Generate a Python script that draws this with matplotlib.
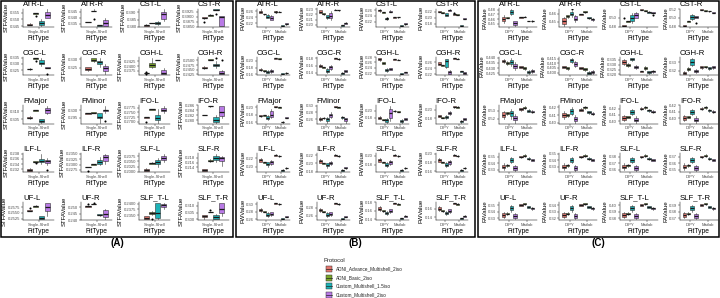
import matplotlib
matplotlib.use('Agg')
import matplotlib.pyplot as plt
from matplotlib.patches import Rectangle
from matplotlib.ticker import MaxNLocator

plt.rcParams['font.family'] = ['Liberation Sans', 'DejaVu Sans']

protocols = ['ADNI_Advance_Multishell_2iso', 'ADNI_Basic_2iso',
             'Custom_Multishell_1.5iso', 'Custom_Multishell_2iso']
colors = ['#E4766E', '#7BA62A', '#1DB3B7', '#B97AE6']
tracts = ['ATR-L', 'ATR-R', 'CST-L', 'CST-R', 'CGC-L', 'CGC-R', 'CGH-L', 'CGH-R',
          'FMajor', 'FMinor', 'IFO-L', 'IFO-R', 'ILF-L', 'ILF-R', 'SLF-L', 'SLF-R',
          'UF-L', 'UF-R', 'SLF_T-L', 'SLF_T-R']
fit_a = ['Single-Shell']
fit_bc = ['DIPY', 'Matlab']

# boxes: [low whisker, q1, median, q3, high whisker], one per protocol
stfa = {
    'ATR-L': [[0.3455, 0.3458, 0.346, 0.3465, 0.347], [0.3543, 0.3543, 0.3545, 0.3546, 0.3548],
              [0.345, 0.3458, 0.3475, 0.349, 0.350], [0.351, 0.351, 0.3535, 0.3553, 0.3575]],
    'ATR-R': [[0.3363, 0.3363, 0.3365, 0.3367, 0.3367], [0.3455, 0.3455, 0.3457, 0.346, 0.347],
              [0.3335, 0.3335, 0.334, 0.3342, 0.3342], [0.333, 0.3335, 0.3355, 0.338, 0.340]],
    'CST-L': [[0.3805, 0.3808, 0.381, 0.3815, 0.3818], [0.3825, 0.3825, 0.3828, 0.383, 0.383],
              [0.3815, 0.382, 0.3828, 0.3833, 0.384], [0.384, 0.3855, 0.389, 0.3905, 0.392]],
    'CST-R': [[0.389, 0.3893, 0.3895, 0.3898, 0.390], [0.3902, 0.3905, 0.3908, 0.391, 0.3912],
              [0.3935, 0.3935, 0.3937, 0.3938, 0.3938], [0.3852, 0.3855, 0.390, 0.3905, 0.3905]],
    'CGC-L': [[0.3252, 0.3255, 0.3258, 0.3262, 0.3265], [0.3338, 0.334, 0.3345, 0.3348, 0.335],
              [0.328, 0.3295, 0.331, 0.3335, 0.335], [0.3268, 0.3268, 0.327, 0.3272, 0.3272]],
    'CGC-R': [[0.3233, 0.3235, 0.3245, 0.3255, 0.3257], [0.3285, 0.329, 0.3298, 0.3305, 0.331],
              [0.3255, 0.327, 0.3283, 0.329, 0.3305], [0.321, 0.3228, 0.325, 0.3262, 0.3275]],
    'CGH-L': [[0.2362, 0.2362, 0.2363, 0.2364, 0.2364], [0.239, 0.2395, 0.2405, 0.2418, 0.2445],
              [0.2432, 0.2432, 0.2433, 0.2434, 0.2434], [0.2355, 0.2358, 0.2363, 0.238, 0.239]],
    'CGH-R': [[0.2455, 0.2457, 0.246, 0.2465, 0.2468], [0.2503, 0.2503, 0.2505, 0.2506, 0.2506],
              [0.2462, 0.2468, 0.2475, 0.248, 0.2495], [0.2425, 0.2428, 0.2435, 0.2445, 0.2448]],
    'FMajor': [[0.3055, 0.3057, 0.306, 0.3065, 0.3068], [0.3105, 0.3105, 0.3106, 0.3107, 0.3107],
               [0.3028, 0.303, 0.3038, 0.305, 0.3052], [0.3085, 0.309, 0.311, 0.3125, 0.3135]],
    'FMinor': [[0.2978, 0.2978, 0.298, 0.2981, 0.2981], [0.2982, 0.2983, 0.2985, 0.2987, 0.2988],
               [0.2915, 0.2945, 0.2955, 0.2982, 0.2985], [0.2985, 0.2995, 0.300, 0.3005, 0.303]],
    'IFO-L': [[0.2722, 0.2723, 0.2725, 0.2727, 0.2728], [0.2762, 0.2763, 0.2766, 0.2768, 0.2768],
              [0.2695, 0.2708, 0.272, 0.2738, 0.277], [0.2748, 0.2758, 0.2765, 0.2775, 0.2785]],
    'IFO-R': [[0.2821, 0.2821, 0.2822, 0.2823, 0.2823], [0.2855, 0.2856, 0.2857, 0.2858, 0.2858],
              [0.279, 0.2792, 0.280, 0.2815, 0.282], [0.2808, 0.2818, 0.2835, 0.2858, 0.2858]],
    'ILF-L': [[0.2313, 0.2314, 0.2318, 0.2322, 0.2323], [0.2345, 0.2347, 0.2349, 0.235, 0.2353],
              [0.2342, 0.2348, 0.2352, 0.2358, 0.2378], [0.2338, 0.2343, 0.235, 0.2355, 0.2362]],
    'ILF-R': [[0.2287, 0.2287, 0.2288, 0.229, 0.229], [0.2298, 0.2299, 0.2301, 0.2303, 0.2304],
              [0.2298, 0.2305, 0.231, 0.2322, 0.2335], [0.2305, 0.2315, 0.2335, 0.2345, 0.2348]],
    'SLF-L': [[0.2003, 0.2005, 0.201, 0.2015, 0.2017], [0.2035, 0.2038, 0.204, 0.2043, 0.2045],
              [0.2025, 0.2035, 0.2045, 0.2055, 0.2065], [0.2045, 0.2055, 0.2065, 0.2075, 0.2085]],
    'SLF-R': [[0.2125, 0.2127, 0.2129, 0.2132, 0.2134], [0.2163, 0.2165, 0.2168, 0.2171, 0.2175],
              [0.2162, 0.2169, 0.2178, 0.2187, 0.2195], [0.2145, 0.2168, 0.2178, 0.2182, 0.2188]],
    'UF-L': [[0.2558, 0.2558, 0.256, 0.2562, 0.2562], [0.2575, 0.2577, 0.2579, 0.2581, 0.2583],
             [0.2522, 0.2525, 0.253, 0.2535, 0.2538], [0.2535, 0.256, 0.2575, 0.2595, 0.2595]],
    'UF-R': [[0.2503, 0.2503, 0.2505, 0.2507, 0.2507], [0.2522, 0.2523, 0.2525, 0.2527, 0.2528],
             [0.2432, 0.2435, 0.2442, 0.2448, 0.245], [0.2405, 0.2425, 0.245, 0.248, 0.2482]],
    'SLF_T-L': [[0.2333, 0.2335, 0.234, 0.2345, 0.2347], [0.2352, 0.2355, 0.2358, 0.2362, 0.2368],
                [0.2335, 0.234, 0.236, 0.2402, 0.2405], [0.2375, 0.2385, 0.2393, 0.240, 0.2405]],
    'SLF_T-R': [[0.3005, 0.3015, 0.3022, 0.303, 0.3032], [0.3055, 0.3055, 0.3056, 0.3057, 0.3058],
                [0.300, 0.3005, 0.3018, 0.3035, 0.304], [0.3025, 0.3045, 0.308, 0.3125, 0.3125]],
}
# outliers: (box index, value)
stfa_out = {
    'ATR-L': [(1, 0.3525)], 'ATR-R': [(1, 0.339)], 'CST-R': [(0, 0.3875), (2, 0.3912)],
    'CGC-L': [(1, 0.332), (3, 0.3215)], 'CGH-L': [(0, 0.237), (0, 0.2356)],
    'CGH-R': [(2, 0.2515), (3, 0.2505)], 'FMinor': [(3, 0.2925)], 'IFO-L': [(0, 0.2697)],
    'ILF-L': [(1, 0.2344), (3, 0.2318)], 'ILF-R': [(0, 0.227)], 'UF-L': [(0, 0.2572)],
    'UF-R': [(0, 0.2522), (1, 0.2535)], 'SLF_T-L': [(1, 0.2332)], 'SLF_T-R': [(1, 0.3072)],
}

# FW: DIPY (4 protocols) then Matlab (4 protocols)
fw = {
    'ATR-L': [[0.253, 0.255, 0.258, 0.262, 0.266], [0.248, 0.249, 0.25, 0.251, 0.252],
              [0.236, 0.238, 0.242, 0.247, 0.249], [0.230, 0.232, 0.236, 0.244, 0.246],
              [0.257, 0.257, 0.258, 0.259, 0.259], [0.256, 0.257, 0.2575, 0.258, 0.259],
              [0.210, 0.211, 0.212, 0.214, 0.215], [0.214, 0.216, 0.218, 0.220, 0.221]],
    'ATR-R': [[0.222, 0.223, 0.225, 0.228, 0.229], [0.219, 0.22, 0.221, 0.222, 0.222],
              [0.212, 0.213, 0.215, 0.218, 0.219], [0.210, 0.213, 0.217, 0.222, 0.226],
              [0.228, 0.228, 0.229, 0.229, 0.23], [0.227, 0.228, 0.228, 0.229, 0.229],
              [0.197, 0.198, 0.199, 0.2, 0.2], [0.201, 0.202, 0.203, 0.204, 0.205]],
    'CST-L': [[0.255, 0.256, 0.259, 0.262, 0.263], [0.25, 0.251, 0.252, 0.253, 0.253],
              [0.226, 0.228, 0.23, 0.232, 0.233], [0.252, 0.253, 0.255, 0.258, 0.259],
              [0.234, 0.234, 0.235, 0.236, 0.236], [0.234, 0.235, 0.235, 0.236, 0.237],
              [0.204, 0.205, 0.206, 0.208, 0.209], [0.208, 0.21, 0.212, 0.214, 0.215]],
    'CST-R': [[0.218, 0.219, 0.220, 0.222, 0.223], [0.214, 0.215, 0.216, 0.217, 0.217],
              [0.205, 0.207, 0.21, 0.214, 0.216], [0.221, 0.222, 0.224, 0.226, 0.227],
              [0.21, 0.21, 0.211, 0.212, 0.212], [0.208, 0.209, 0.21, 0.211, 0.212],
              [0.173, 0.174, 0.175, 0.176, 0.177], [0.195, 0.196, 0.197, 0.198, 0.199]],
    'CGC-L': [[0.17, 0.172, 0.174, 0.176, 0.178], [0.168, 0.17, 0.171, 0.172, 0.173],
              [0.163, 0.165, 0.168, 0.170, 0.172], [0.165, 0.167, 0.17, 0.173, 0.175],
              [0.205, 0.206, 0.207, 0.208, 0.209], [0.204, 0.205, 0.206, 0.207, 0.208],
              [0.16, 0.161, 0.162, 0.163, 0.164], [0.162, 0.163, 0.164, 0.165, 0.166]],
    'CGC-R': [[0.155, 0.157, 0.16, 0.162, 0.164], [0.152, 0.154, 0.155, 0.156, 0.157],
              [0.14, 0.142, 0.146, 0.15, 0.152], [0.148, 0.15, 0.155, 0.16, 0.162],
              [0.178, 0.179, 0.18, 0.181, 0.182], [0.176, 0.177, 0.178, 0.179, 0.18],
              [0.135, 0.136, 0.138, 0.14, 0.141], [0.142, 0.143, 0.145, 0.147, 0.148]],
    'CGH-L': [[0.265, 0.268, 0.272, 0.276, 0.278], [0.255, 0.256, 0.258, 0.26, 0.261],
              [0.225, 0.228, 0.232, 0.236, 0.238], [0.23, 0.232, 0.235, 0.238, 0.24],
              [0.27, 0.271, 0.272, 0.273, 0.274], [0.268, 0.269, 0.27, 0.271, 0.272],
              [0.215, 0.216, 0.218, 0.22, 0.221], [0.22, 0.221, 0.223, 0.225, 0.226]],
    'CGH-R': [[0.25, 0.252, 0.256, 0.26, 0.262], [0.248, 0.249, 0.25, 0.251, 0.252],
              [0.24, 0.245, 0.265, 0.27, 0.272], [0.22, 0.222, 0.228, 0.232, 0.234],
              [0.272, 0.273, 0.274, 0.275, 0.276], [0.27, 0.271, 0.272, 0.273, 0.274],
              [0.228, 0.229, 0.23, 0.231, 0.232], [0.222, 0.223, 0.225, 0.227, 0.228]],
    'FMajor': [[0.175, 0.176, 0.177, 0.178, 0.179], [0.176, 0.177, 0.178, 0.179, 0.18],
               [0.165, 0.168, 0.172, 0.176, 0.178], [0.17, 0.173, 0.178, 0.19, 0.195],
               [0.2, 0.201, 0.202, 0.203, 0.204], [0.198, 0.199, 0.2, 0.201, 0.202],
               [0.158, 0.159, 0.16, 0.161, 0.162], [0.17, 0.171, 0.172, 0.173, 0.174]],
    'FMinor': [[0.255, 0.258, 0.262, 0.265, 0.268], [0.262, 0.263, 0.264, 0.265, 0.266],
               [0.25, 0.255, 0.26, 0.265, 0.268], [0.265, 0.268, 0.272, 0.276, 0.28],
               [0.295, 0.296, 0.297, 0.298, 0.299], [0.293, 0.294, 0.295, 0.296, 0.297],
               [0.262, 0.264, 0.266, 0.268, 0.27], [0.25, 0.255, 0.26, 0.263, 0.265]],
    'IFO-L': [[0.175, 0.177, 0.18, 0.183, 0.185], [0.172, 0.173, 0.174, 0.175, 0.176],
              [0.165, 0.168, 0.172, 0.175, 0.178], [0.17, 0.18, 0.195, 0.205, 0.215],
              [0.198, 0.199, 0.2, 0.201, 0.202], [0.196, 0.197, 0.198, 0.199, 0.2],
              [0.165, 0.167, 0.17, 0.173, 0.175], [0.172, 0.174, 0.176, 0.178, 0.18]],
    'IFO-R': [[0.183, 0.184, 0.186, 0.188, 0.189], [0.18, 0.181, 0.182, 0.183, 0.184],
              [0.178, 0.18, 0.183, 0.186, 0.188], [0.188, 0.19, 0.193, 0.196, 0.198],
              [0.205, 0.206, 0.207, 0.208, 0.209], [0.204, 0.205, 0.206, 0.207, 0.208],
              [0.17, 0.171, 0.173, 0.175, 0.176], [0.176, 0.177, 0.179, 0.181, 0.182]],
    'ILF-L': [[0.21, 0.212, 0.215, 0.218, 0.22], [0.208, 0.209, 0.21, 0.211, 0.212],
              [0.2, 0.203, 0.207, 0.21, 0.212], [0.205, 0.207, 0.21, 0.213, 0.215],
              [0.225, 0.226, 0.227, 0.228, 0.229], [0.223, 0.224, 0.225, 0.226, 0.227],
              [0.19, 0.191, 0.192, 0.193, 0.194], [0.195, 0.196, 0.197, 0.198, 0.199]],
    'ILF-R': [[0.2, 0.202, 0.205, 0.208, 0.21], [0.198, 0.199, 0.2, 0.201, 0.202],
              [0.19, 0.193, 0.196, 0.2, 0.202], [0.196, 0.198, 0.2, 0.203, 0.205],
              [0.218, 0.219, 0.22, 0.221, 0.222], [0.216, 0.217, 0.218, 0.219, 0.22],
              [0.182, 0.183, 0.184, 0.185, 0.186], [0.188, 0.189, 0.19, 0.191, 0.192]],
    'SLF-L': [[0.185, 0.187, 0.19, 0.193, 0.195], [0.183, 0.184, 0.185, 0.186, 0.187],
              [0.175, 0.177, 0.18, 0.183, 0.185], [0.18, 0.182, 0.185, 0.188, 0.19],
              [0.2, 0.201, 0.202, 0.203, 0.204], [0.198, 0.199, 0.2, 0.201, 0.202],
              [0.165, 0.166, 0.167, 0.168, 0.169], [0.17, 0.171, 0.172, 0.173, 0.174]],
    'SLF-R': [[0.18, 0.182, 0.185, 0.188, 0.19], [0.178, 0.179, 0.18, 0.181, 0.182],
              [0.17, 0.172, 0.175, 0.178, 0.18], [0.175, 0.177, 0.18, 0.183, 0.185],
              [0.195, 0.196, 0.197, 0.198, 0.199], [0.193, 0.194, 0.195, 0.196, 0.197],
              [0.16, 0.161, 0.162, 0.163, 0.164], [0.165, 0.166, 0.167, 0.168, 0.169]],
    'UF-L': [[0.28, 0.282, 0.285, 0.288, 0.29], [0.278, 0.279, 0.28, 0.281, 0.282],
             [0.265, 0.268, 0.272, 0.276, 0.278], [0.27, 0.272, 0.275, 0.278, 0.28],
             [0.3, 0.301, 0.302, 0.303, 0.304], [0.298, 0.299, 0.3, 0.301, 0.302],
             [0.26, 0.261, 0.262, 0.263, 0.264], [0.265, 0.266, 0.267, 0.268, 0.269]],
    'UF-R': [[0.27, 0.272, 0.275, 0.278, 0.28], [0.268, 0.269, 0.27, 0.271, 0.272],
             [0.255, 0.258, 0.262, 0.266, 0.268], [0.26, 0.262, 0.265, 0.268, 0.27],
             [0.29, 0.291, 0.292, 0.293, 0.294], [0.288, 0.289, 0.29, 0.291, 0.292],
             [0.25, 0.251, 0.252, 0.253, 0.254], [0.255, 0.256, 0.257, 0.258, 0.259]],
    'SLF_T-L': [[0.16, 0.162, 0.165, 0.168, 0.17], [0.158, 0.159, 0.16, 0.161, 0.162],
                [0.15, 0.152, 0.155, 0.158, 0.16], [0.155, 0.157, 0.16, 0.163, 0.165],
                [0.175, 0.176, 0.177, 0.178, 0.179], [0.173, 0.174, 0.175, 0.176, 0.177],
                [0.14, 0.141, 0.142, 0.143, 0.144], [0.145, 0.146, 0.147, 0.148, 0.149]],
    'SLF_T-R': [[0.155, 0.157, 0.16, 0.163, 0.165], [0.153, 0.154, 0.155, 0.156, 0.157],
                [0.145, 0.147, 0.15, 0.153, 0.155], [0.15, 0.152, 0.155, 0.158, 0.16],
                [0.17, 0.171, 0.172, 0.173, 0.174], [0.168, 0.169, 0.17, 0.171, 0.172],
                [0.135, 0.136, 0.137, 0.138, 0.139], [0.14, 0.141, 0.142, 0.143, 0.144]],
}
fw_out = {'ATR-L': [(4, 0.256)], 'CST-L': [(2, 0.234)], 'CST-R': [(4, 0.214)]}

# FA: DIPY (4 protocols) then Matlab (4 protocols)
fa = {
    'ATR-L': [[0.452, 0.455, 0.46, 0.465, 0.468], [0.462, 0.462, 0.463, 0.464, 0.464],
              [0.468, 0.470, 0.475, 0.480, 0.481], [0.445, 0.448, 0.451, 0.455, 0.457],
              [0.463, 0.463, 0.464, 0.464, 0.465], [0.464, 0.464, 0.465, 0.465, 0.466],
              [0.455, 0.455, 0.456, 0.457, 0.457], [0.454, 0.455, 0.456, 0.457, 0.458]],
    'ATR-R': [[0.445, 0.447, 0.451, 0.455, 0.456], [0.455, 0.456, 0.457, 0.458, 0.458],
              [0.456, 0.458, 0.46, 0.462, 0.463], [0.45, 0.452, 0.454, 0.457, 0.458],
              [0.458, 0.458, 0.459, 0.46, 0.46], [0.461, 0.462, 0.462, 0.463, 0.463],
              [0.454, 0.455, 0.455, 0.456, 0.456], [0.451, 0.452, 0.453, 0.454, 0.455]],
    'CST-L': [[0.481, 0.481, 0.482, 0.483, 0.483], [0.49, 0.491, 0.492, 0.493, 0.493],
              [0.488, 0.492, 0.498, 0.505, 0.51], [0.498, 0.500, 0.505, 0.510, 0.512],
              [0.516, 0.516, 0.517, 0.518, 0.518], [0.514, 0.514, 0.515, 0.516, 0.516],
              [0.510, 0.511, 0.512, 0.513, 0.514], [0.509, 0.510, 0.511, 0.512, 0.513]],
    'CST-R': [[0.480, 0.480, 0.481, 0.482, 0.482], [0.49, 0.491, 0.492, 0.493, 0.493],
              [0.495, 0.497, 0.502, 0.507, 0.509], [0.499, 0.500, 0.502, 0.504, 0.505],
              [0.518, 0.518, 0.519, 0.52, 0.52], [0.516, 0.517, 0.517, 0.518, 0.518],
              [0.514, 0.515, 0.515, 0.516, 0.516], [0.511, 0.511, 0.512, 0.513, 0.513]],
    'CGC-L': [[0.435, 0.436, 0.437, 0.438, 0.439], [0.433, 0.434, 0.435, 0.436, 0.437],
              [0.432, 0.434, 0.436, 0.438, 0.44], [0.428, 0.43, 0.432, 0.434, 0.436],
              [0.43, 0.43, 0.431, 0.432, 0.432], [0.428, 0.429, 0.43, 0.431, 0.431],
              [0.424, 0.425, 0.426, 0.427, 0.428], [0.425, 0.426, 0.427, 0.428, 0.429]],
    'CGC-R': [[0.405, 0.405, 0.406, 0.407, 0.407], [0.403, 0.404, 0.405, 0.406, 0.406],
              [0.41, 0.411, 0.413, 0.415, 0.416], [0.406, 0.407, 0.409, 0.411, 0.412],
              [0.404, 0.404, 0.405, 0.406, 0.406], [0.402, 0.403, 0.404, 0.405, 0.405],
              [0.398, 0.399, 0.4, 0.401, 0.402], [0.399, 0.4, 0.401, 0.402, 0.403]],
    'CGH-L': [[0.33, 0.331, 0.333, 0.335, 0.336], [0.328, 0.329, 0.33, 0.331, 0.332],
              [0.334, 0.335, 0.336, 0.337, 0.337], [0.326, 0.327, 0.328, 0.329, 0.33],
              [0.322, 0.322, 0.323, 0.324, 0.324], [0.325, 0.326, 0.327, 0.328, 0.329],
              [0.32, 0.321, 0.322, 0.323, 0.323], [0.321, 0.322, 0.323, 0.324, 0.325]],
    'CGH-R': [[0.316, 0.317, 0.318, 0.319, 0.32], [0.32, 0.321, 0.322, 0.323, 0.324],
              [0.325, 0.327, 0.33, 0.333, 0.335], [0.318, 0.319, 0.32, 0.321, 0.322],
              [0.322, 0.323, 0.324, 0.325, 0.325], [0.323, 0.324, 0.324, 0.325, 0.325],
              [0.321, 0.322, 0.323, 0.324, 0.324], [0.322, 0.323, 0.324, 0.325, 0.325]],
    'FMajor': [[0.52, 0.522, 0.525, 0.528, 0.53], [0.525, 0.526, 0.527, 0.528, 0.529],
               [0.52, 0.523, 0.527, 0.53, 0.532], [0.515, 0.518, 0.521, 0.524, 0.526],
               [0.53, 0.531, 0.532, 0.533, 0.534], [0.532, 0.533, 0.534, 0.535, 0.536],
               [0.528, 0.529, 0.53, 0.531, 0.532], [0.527, 0.528, 0.529, 0.53, 0.531]],
    'FMinor': [[0.405, 0.407, 0.41, 0.413, 0.415], [0.408, 0.409, 0.41, 0.411, 0.412],
               [0.41, 0.412, 0.415, 0.418, 0.42], [0.4, 0.402, 0.405, 0.408, 0.41],
               [0.415, 0.416, 0.417, 0.418, 0.419], [0.418, 0.419, 0.42, 0.421, 0.422],
               [0.412, 0.413, 0.414, 0.415, 0.416], [0.41, 0.411, 0.412, 0.413, 0.414]],
    'IFO-L': [[0.4, 0.402, 0.405, 0.408, 0.41], [0.405, 0.406, 0.407, 0.408, 0.409],
              [0.41, 0.412, 0.415, 0.418, 0.42], [0.398, 0.4, 0.403, 0.406, 0.408],
              [0.418, 0.419, 0.42, 0.421, 0.422], [0.42, 0.421, 0.422, 0.423, 0.424],
              [0.415, 0.416, 0.417, 0.418, 0.419], [0.413, 0.414, 0.415, 0.416, 0.417]],
    'IFO-R': [[0.395, 0.397, 0.4, 0.403, 0.405], [0.4, 0.401, 0.402, 0.403, 0.404],
              [0.405, 0.407, 0.41, 0.413, 0.415], [0.393, 0.395, 0.398, 0.401, 0.403],
              [0.413, 0.414, 0.415, 0.416, 0.417], [0.415, 0.416, 0.417, 0.418, 0.419],
              [0.41, 0.411, 0.412, 0.413, 0.414], [0.408, 0.409, 0.41, 0.411, 0.412]],
    'ILF-L': [[0.33, 0.332, 0.335, 0.338, 0.34], [0.335, 0.336, 0.337, 0.338, 0.339],
              [0.34, 0.342, 0.345, 0.348, 0.35], [0.328, 0.33, 0.333, 0.336, 0.338],
              [0.348, 0.349, 0.35, 0.351, 0.352], [0.35, 0.351, 0.352, 0.353, 0.354],
              [0.345, 0.346, 0.347, 0.348, 0.349], [0.343, 0.344, 0.345, 0.346, 0.347]],
    'ILF-R': [[0.325, 0.327, 0.33, 0.333, 0.335], [0.33, 0.331, 0.332, 0.333, 0.334],
              [0.335, 0.337, 0.34, 0.343, 0.345], [0.323, 0.325, 0.328, 0.331, 0.333],
              [0.343, 0.344, 0.345, 0.346, 0.347], [0.345, 0.346, 0.347, 0.348, 0.349],
              [0.34, 0.341, 0.342, 0.343, 0.344], [0.338, 0.339, 0.34, 0.341, 0.342]],
    'SLF-L': [[0.36, 0.362, 0.365, 0.368, 0.37], [0.365, 0.366, 0.367, 0.368, 0.369],
              [0.37, 0.372, 0.375, 0.378, 0.38], [0.358, 0.36, 0.363, 0.366, 0.368],
              [0.378, 0.379, 0.38, 0.381, 0.382], [0.38, 0.381, 0.382, 0.383, 0.384],
              [0.375, 0.376, 0.377, 0.378, 0.379], [0.373, 0.374, 0.375, 0.376, 0.377]],
    'SLF-R': [[0.35, 0.352, 0.355, 0.358, 0.36], [0.355, 0.356, 0.357, 0.358, 0.359],
              [0.36, 0.362, 0.365, 0.368, 0.37], [0.348, 0.35, 0.353, 0.356, 0.358],
              [0.368, 0.369, 0.37, 0.371, 0.372], [0.37, 0.371, 0.372, 0.373, 0.374],
              [0.365, 0.366, 0.367, 0.368, 0.369], [0.363, 0.364, 0.365, 0.366, 0.367]],
    'UF-L': [[0.33, 0.332, 0.335, 0.338, 0.34], [0.335, 0.336, 0.337, 0.338, 0.339],
             [0.34, 0.342, 0.345, 0.348, 0.35], [0.328, 0.33, 0.333, 0.336, 0.338],
             [0.348, 0.349, 0.35, 0.351, 0.352], [0.35, 0.351, 0.352, 0.353, 0.354],
             [0.345, 0.346, 0.347, 0.348, 0.349], [0.343, 0.344, 0.345, 0.346, 0.347]],
    'UF-R': [[0.32, 0.322, 0.325, 0.328, 0.33], [0.325, 0.326, 0.327, 0.328, 0.329],
             [0.33, 0.332, 0.335, 0.338, 0.34], [0.318, 0.32, 0.323, 0.326, 0.328],
             [0.338, 0.339, 0.34, 0.341, 0.342], [0.34, 0.341, 0.342, 0.343, 0.344],
             [0.335, 0.336, 0.337, 0.338, 0.339], [0.333, 0.334, 0.335, 0.336, 0.337]],
    'SLF_T-L': [[0.38, 0.382, 0.385, 0.388, 0.39], [0.385, 0.386, 0.387, 0.388, 0.389],
                [0.39, 0.392, 0.395, 0.398, 0.4], [0.378, 0.38, 0.383, 0.386, 0.388],
                [0.398, 0.399, 0.4, 0.401, 0.402], [0.4, 0.401, 0.402, 0.403, 0.404],
                [0.395, 0.396, 0.397, 0.398, 0.399], [0.393, 0.394, 0.395, 0.396, 0.397]],
    'SLF_T-R': [[0.37, 0.372, 0.375, 0.378, 0.38], [0.375, 0.376, 0.377, 0.378, 0.379],
                [0.38, 0.382, 0.385, 0.388, 0.39], [0.368, 0.37, 0.373, 0.376, 0.378],
                [0.388, 0.389, 0.39, 0.391, 0.392], [0.39, 0.391, 0.392, 0.393, 0.394],
                [0.385, 0.386, 0.387, 0.388, 0.389], [0.383, 0.384, 0.385, 0.386, 0.387]],
}
fa_out = {'CST-L': [(0, 0.499), (7, 0.506)], 'CST-R': [(3, 0.487)], 'ATR-R': [(2, 0.465)]}

W, H = 720, 298
fig = plt.figure(figsize=(W / 100, H / 100), dpi=100)


def px(x, y, w, h):
    return [x / W, 1 - (y + h) / H, w / W, h / H]


def draw(ax, boxes, outs, fits, ylab, title):
    for i, b in enumerate(boxes):
        if b is None:
            continue
        g, p = divmod(i, 4)
        st = dict(whislo=b[0], q1=b[1], med=b[2], q3=b[3], whishi=b[4],
                  fliers=[v for k, v in outs if k == i])
        ax.bxp([st], positions=[g + 1 + (p - 1.5) * 0.225], widths=0.2,
               patch_artist=True, showcaps=False, manage_ticks=False,
               boxprops=dict(facecolor=colors[p], edgecolor='#333333', linewidth=0.4),
               medianprops=dict(color='#1a1a1a', linewidth=0.9),
               whiskerprops=dict(color='#333333', linewidth=0.4),
               flierprops=dict(marker='o', markersize=1.5, markerfacecolor='black',
                               markeredgecolor='black', markeredgewidth=0))
    ax.set_xlim(0.4, len(fits) + 0.6)
    ax.set_xticks(range(1, len(fits) + 1))
    ax.set_xticklabels(fits)
    ax.yaxis.set_major_locator(MaxNLocator(nbins=4, steps=[1, 2, 2.5, 5, 10]))
    ax.ticklabel_format(axis='y', useOffset=False)
    ax.tick_params(labelsize=3, length=1.2, width=0.35, pad=0.8, colors='#333333',
                   labelcolor='#4d4d4d')
    for s in ['top', 'right']:
        ax.spines[s].set_visible(False)
    for s in ['left', 'bottom']:
        ax.spines[s].set_linewidth(0.35)
    ax.set_xlabel('FitType', fontsize=4.8, labelpad=0.8)
    ax.set_ylabel(ylab, fontsize=4.3, labelpad=0.8)
    ax.set_title(title, fontsize=5.6, loc='left', pad=1.5)


panels = [
    (stfa, stfa_out, fit_a, 'STFAValue', 1, 58.2, 22, 31),
    (fw, fw_out, fit_bc, 'FWValue', 237, 59.5, 20, 33),
    (fa, fa_out, fit_bc, 'FAValue', 479, 60.3, 20, 38),
]
for data, outs, fits, ylab, x0, cw, off, aw in panels:
    for k, t in enumerate(tracts):
        r, c = divmod(k, 4)
        top = 8.5 + r * 48.3
        ax = fig.add_axes(px(x0 + c * cw + off, top, aw, 18.5))
        draw(ax, data[t], outs.get(t, []), fits, ylab, t)

# panel frames and tags
for x0, x1, tag in [(1, 233, '(A)'), (236, 475, '(B)'), (478, 719, '(C)')]:
    fig.add_artist(Rectangle((x0 / W, 1 - 237 / H), (x1 - x0) / W, 236 / H,
                             transform=fig.transFigure, fill=False,
                             edgecolor='black', linewidth=1.1))
    fig.text((x0 + x1) / 2 / W, 1 - 243 / H, tag, fontsize=7, fontweight='bold',
             ha='center', va='center')

# legend
fig.text(323 / W, 1 - 261 / H, 'Protocol', fontsize=4.2, va='center', color='#222222')
for i, (p, c) in enumerate(zip(protocols, colors)):
    yc = 269 + i * 8.6
    fig.add_artist(Rectangle((326 / W, 1 - (yc + 3) / H), 6 / W, 6 / H,
                             transform=fig.transFigure, facecolor=c,
                             edgecolor='#333333', linewidth=0.35))
    fig.add_artist(plt.Line2D([326 / W, 332 / W], [1 - yc / H, 1 - yc / H],
                              transform=fig.transFigure, color='#222222', linewidth=0.5))
    fig.text(336 / W, 1 - yc / H, p, fontsize=3.4, va='center', color='#222222')

fig.savefig('out.png', dpi=100)
